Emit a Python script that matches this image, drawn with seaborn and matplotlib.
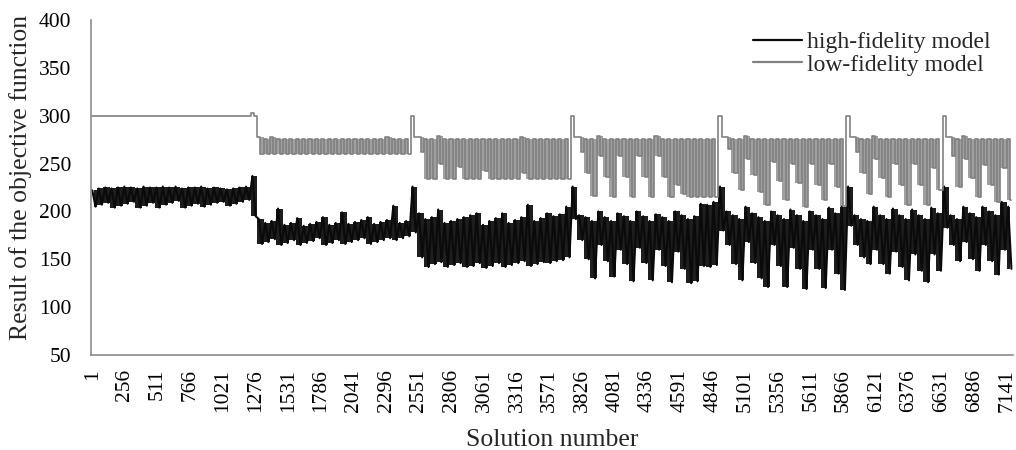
import numpy as np
import pandas as pd
import matplotlib
matplotlib.use("Agg")
import matplotlib.pyplot as plt
import seaborn as sns

# Values, one pair per block of 50 solutions:
# the highest and the lowest value the line reaches inside that block.
hf_top = [222, 224, 225, 224, 225, 226, 225, 224, 226, 225,
          225, 226, 225, 226, 224, 225, 225, 226, 224, 225,
          224, 223, 224, 225, 226, 237,
          192, 188, 190, 203,
          186, 188, 193, 185, 187, 189, 194, 186, 188, 199,
          187, 189, 191, 194, 187, 189, 191, 206, 188, 190,
          226,
          198, 192, 194, 202, 188, 190, 192, 194, 196,
          198, 186, 190, 193, 198, 188, 191, 194, 207, 190,
          193, 198, 195, 197, 205,
          226,
          196, 194, 190, 200,
          194, 190, 198, 195, 190, 200, 195, 190, 197, 194,
          190, 200, 196, 192, 195, 208, 207, 210,
          226,
          200, 196, 192, 205, 198, 194, 190, 200, 196, 192, 202,
          196, 190, 200, 196, 192, 204, 198, 205,
          226,
          196, 192, 190, 205, 196, 192, 203, 196, 192, 202, 196, 192, 204, 198,
          226,
          196, 192, 205, 198, 194, 205, 200, 196, 210, 205]
hf_bot = [205, 207, 209, 204, 206, 208, 210, 204, 206, 209,
          204, 207, 209, 211, 204, 206, 208, 205, 207, 209,
          210, 206, 208, 210, 212, 195,
          166, 168, 171, 165,
          167, 170, 165, 167, 169, 172, 165, 167, 170, 166,
          168, 170, 172, 166, 168, 170, 172, 170, 172, 174,
          178,
          152, 142, 145, 147, 142, 144, 146, 142, 143,
          146, 141, 143, 146, 142, 144, 146, 148, 143, 145,
          147, 146, 148, 149, 152,
          192,
          170, 150, 130, 165,
          148, 132, 160, 145, 127, 162, 146, 128, 160, 143,
          126, 158, 140, 125, 127, 143, 142, 144,
          180,
          165, 145, 128, 168, 146, 130, 121, 165, 143, 121, 162,
          140, 119, 160, 140, 120, 160, 135, 118,
          185,
          165, 152, 145, 160, 145, 135, 158, 142, 128, 155, 138, 126, 155, 138,
          183,
          165, 148, 168, 150, 138, 165, 148, 134, 160, 140]

lf_top = [300] * 25 + [303, 278,
          276, 278, 276, 276, 276, 276, 276, 276, 276, 276, 276, 276,
          276, 276, 276, 276, 276, 276, 276, 278, 276, 276, 276,
          300, 278,
          276, 276, 279, 276, 276, 276, 276, 276, 276, 276, 276, 276,
          276, 276, 276, 278, 276, 276, 276, 276, 276, 276, 276,
          300, 278,
          276, 276, 279, 276, 276, 276, 276, 276, 276, 276, 276, 279,
          276, 276, 276, 276, 276, 276, 276, 276, 276,
          300, 278,
          276, 276, 279, 276, 276, 276, 276, 276, 276, 276, 276, 276,
          276, 276, 276, 276, 276, 276,
          300, 278,
          276, 276, 279, 276, 276, 276, 276, 276, 276, 276, 276, 276, 276,
          300, 278,
          276, 279, 276, 276, 276, 276, 276, 276, 276]
lf_bot = [300] * 26 + [260] * 24 + [
          278, 262,
          234, 234, 250, 234, 234, 246, 234, 234, 234, 242, 234, 234,
          234, 234, 234, 240, 234, 234, 234, 234, 234, 234, 234,
          278, 262,
          240, 216, 258, 236, 215, 258, 236, 215, 258, 236, 215, 258,
          236, 215, 228, 218, 215, 215, 215, 215, 215,
          278, 265,
          240, 222, 255, 238, 220, 207, 252, 232, 212, 250, 230, 205,
          250, 228, 212, 250, 225, 206,
          278, 262,
          240, 218, 255, 235, 215, 250, 228, 207, 250, 228, 207, 245, 222,
          278, 258,
          226, 255, 235, 215, 248, 228, 210, 245, 212]

tick_labels = [1, 256, 511, 766, 1021, 1276, 1531, 1786, 2041, 2296,
               2551, 2806, 3061, 3316, 3571, 3826, 4081, 4336, 4591, 4846,
               5101, 5356, 5611, 5866, 6121, 6376, 6631, 6886, 7141]
y_ticks = [50, 100, 150, 200, 250, 300, 350, 400]


def block_series(top, bot, name):
    # each block gives its top at the block start and its bottom half-way
    n = len(top)
    sol = np.empty(2 * n, dtype=int)
    sol[0::2] = 1 + 50 * np.arange(n)
    sol[1::2] = 26 + 50 * np.arange(n)
    val = np.empty(2 * n)
    val[0::2] = top
    val[1::2] = bot
    return pd.DataFrame({"Solution": sol, "Result": val, "Model": name})


df_hf = block_series(hf_top, hf_bot, "high-fidelity model")
df_lf = block_series(lf_top, lf_bot, "low-fidelity model")
block_mid = 13 + 50 * np.arange(len(hf_top))

sns.set_style("white")
plt.rcParams["font.family"] = ["Liberation Serif", "DejaVu Serif"]

fig = plt.figure(figsize=(10.16, 4.5), dpi=100)
ax = fig.add_axes([0.0896, 0.2111, 0.9074, 0.7445])

# the lines swing hundreds of times per block, so the range inside each
# block shows as a shaded band under the drawn line
lf_top_a = np.array(lf_top)
ax.fill_between(block_mid, lf_bot, lf_top, step="mid", color="#808080",
                alpha=0.75, linewidth=0, where=lf_top_a < 290)
ax.fill_between(block_mid, hf_bot, hf_top, step="mid", color="#0a0a0a",
                alpha=0.92, linewidth=0)

sns.lineplot(data=df_hf, x="Solution", y="Result", color="#0a0a0a",
             linewidth=1.5, estimator=None, sort=False, ax=ax,
             label="high-fidelity model")
sns.lineplot(data=df_lf, x="Solution", y="Result", color="#808080",
             linewidth=1.2, estimator=None, sort=False, ax=ax,
             drawstyle="steps-mid", label="low-fidelity model")

ax.set_xlim(-9, 7188)
ax.set_ylim(50, 400)
ax.set_yticks(y_ticks)
ax.set_xticks(tick_labels)
ax.set_xticklabels([str(t) for t in tick_labels], rotation=90)
ax.tick_params(axis="both", length=0, labelsize=15.5, colors="black")
ax.tick_params(axis="y", pad=14)
ax.tick_params(axis="x", pad=10)

for side in ["top", "right"]:
    ax.spines[side].set_visible(False)
for side in ["left", "bottom"]:
    ax.spines[side].set_color("#8c8c8c")
    ax.spines[side].set_linewidth(1.2)

ax.set_xlabel("Solution number", fontsize=18.5)
ax.set_ylabel("Result of the objective function", fontsize=18.5)
ax.xaxis.set_label_coords(0.5, -0.222)
ax.yaxis.set_label_coords(-0.064, 0.53)

leg = ax.legend(loc="upper left", bbox_to_anchor=(0.741, 0.93),
                bbox_transform=fig.transFigure, frameon=False, fontsize=17,
                handlelength=2.1, handletextpad=0.2, labelspacing=0.05,
                borderpad=0, borderaxespad=0)
for h in leg.get_lines():
    h.set_linewidth(1.6)

fig.savefig("out.png", dpi=100)
